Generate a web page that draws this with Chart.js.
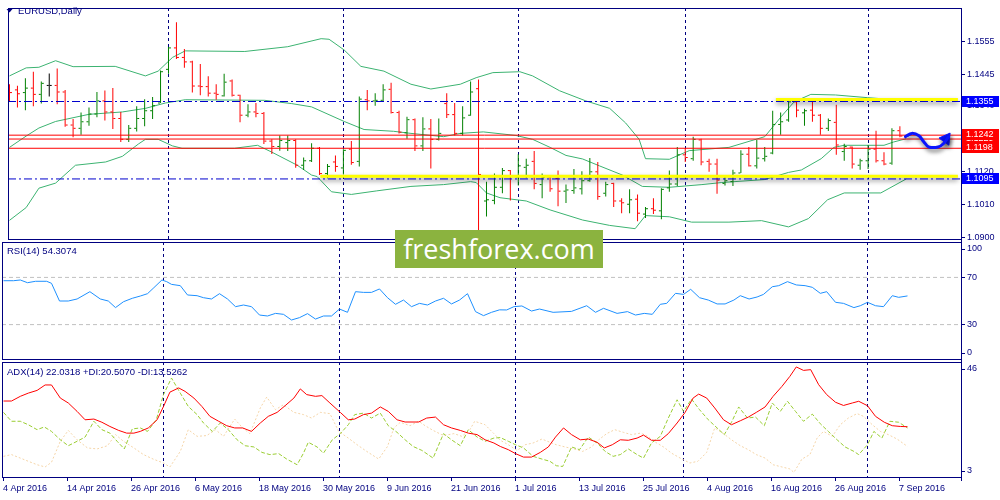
<!DOCTYPE html>
<html><head><meta charset="utf-8">
<script src="https://cdn.jsdelivr.net/npm/chart.js@4.4.0/dist/chart.umd.min.js"></script>
<style>
html,body{margin:0;padding:0;background:#fff;}
#wrap{position:relative;width:1000px;height:500px;overflow:hidden;background:#fff;}
canvas{position:absolute;left:0;top:0;}
#wm{position:absolute;left:395px;top:230px;width:208px;height:38px;background:#8bb33f;color:#fff;font-family:"Open Sans",sans-serif;font-size:27px;line-height:38px;text-align:center;white-space:nowrap;}
</style></head><body>
<div id="wrap">
<canvas id="cPrice" width="1000" height="500"></canvas>
<canvas id="cRsi" width="1000" height="500"></canvas>
<canvas id="cAdx" width="1000" height="500"></canvas>
<div id="wm">freshforex.com</div>
</div>
<script>
// ---------- DATA ----------
const symbolTitle = 'EURUSD,Daily';
const rsiTitle = 'RSI(14) 54.3074';
const adxTitle = 'ADX(14) 22.0318 +DI:20.5070 -DI:13.5262';

const dateTickIdx = [0,8,16,24,32,40,48,56,64,72,80,88,96,104,112];
const dateTickLabels = ['4 Apr 2016','14 Apr 2016','26 Apr 2016','6 May 2016','18 May 2016','30 May 2016','9 Jun 2016','21 Jun 2016','1 Jul 2016','13 Jul 2016','25 Jul 2016','4 Aug 2016','16 Aug 2016','26 Aug 2016','7 Sep 2016'];
const monthStarts = [20,42,64,85,108];

const priceTicks = [1.1555,1.1445,1.1340,1.1230,1.1120,1.1010,1.0900];
const rsiTicks = [100,70,30,0];
const adxTicks = [46,3];
const rsiLevels = [70,30];

const openP = [1.1394,1.1394,1.1385,1.1400,1.1379,1.1409,1.1409,1.1387,1.1276,1.1265,
1.1287,1.1313,1.1357,1.1320,1.1298,1.1228,1.1265,1.1298,1.1324,1.1350,
1.1463,1.1535,1.1503,1.1488,1.1407,1.1405,1.1383,1.1374,1.1424,1.1376,
1.1309,1.1320,1.1315,1.1222,1.1204,1.1217,1.1224,1.1141,1.1156,1.1198,
1.1113,1.1152,1.1132,1.1195,1.1154,1.1361,1.1357,1.1359,1.1396,1.1318,
1.1250,1.1294,1.1206,1.1263,1.1228,1.1348,1.1311,1.1248,1.1309,1.1398,
1.1021,1.1023,1.1067,1.1123,1.1102,1.1134,1.1154,1.1076,1.1102,1.1097,
1.1054,1.1056,1.1062,1.1089,1.1119,1.1047,1.1080,1.1021,1.1010,1.1027,
1.0977,1.0995,1.0988,1.1065,1.1078,1.1176,1.1163,1.1226,1.1154,1.1145,
1.1080,1.1086,1.1115,1.1178,1.1139,1.1163,1.1182,1.1278,1.1293,1.1354,
1.1317,1.1326,1.1309,1.1265,1.1285,1.1187,1.1202,1.1141,1.1156,1.1195,
1.1156,1.1148,1.1257,1.1239];
const highP = [1.1413,1.1408,1.1433,1.1455,1.1422,1.1449,1.1466,1.1394,1.1296,1.1318,
1.1335,1.1387,1.1392,1.1400,1.1320,1.1276,1.1339,1.1363,1.1370,1.1459,
1.1538,1.1621,1.1531,1.1492,1.1481,1.1440,1.1413,1.1448,1.1429,1.1378,
1.1346,1.1350,1.1320,1.1228,1.1241,1.1241,1.1228,1.1167,1.1215,1.1202,
1.1145,1.1174,1.1195,1.1222,1.1372,1.1394,1.1383,1.1413,1.1418,1.1324,
1.1304,1.1298,1.1302,1.1296,1.1298,1.1383,1.1350,1.1339,1.1422,1.1429,
1.1086,1.1113,1.1132,1.1125,1.1178,1.1163,1.1189,1.1113,1.1108,1.1123,
1.1076,1.1128,1.1121,1.1165,1.1152,1.1086,1.1082,1.1030,1.1060,1.1043,
1.1001,1.1030,1.1064,1.1123,1.1202,1.1198,1.1237,1.1230,1.1163,1.1163,
1.1104,1.1126,1.1191,1.1202,1.1226,1.1202,1.1324,1.1318,1.1365,1.1361,
1.1331,1.1357,1.1313,1.1298,1.1344,1.1213,1.1204,1.1163,1.1209,1.1257,
1.1185,1.1265,1.1272,1.1246];
const lowP = [1.1357,1.1335,1.1326,1.1339,1.1348,1.1372,1.1346,1.1270,1.1235,1.1243,
1.1274,1.1302,1.1291,1.1263,1.1219,1.1219,1.1254,1.1272,1.1296,1.1350,
1.1448,1.1498,1.1468,1.1385,1.1376,1.1372,1.1361,1.1372,1.1372,1.1285,
1.1302,1.1302,1.1212,1.1179,1.1190,1.1189,1.1133,1.1125,1.1152,1.1108,
1.1097,1.1119,1.1110,1.1143,1.1137,1.1326,1.1341,1.1357,1.1315,1.1248,
1.1230,1.1189,1.1189,1.1130,1.1224,1.1300,1.1241,1.1241,1.1307,1.0923,
1.0969,1.1010,1.1047,1.1023,1.1073,1.1097,1.1060,1.1030,1.1052,1.1003,
1.1014,1.1045,1.1043,1.1086,1.1025,1.1036,1.1001,1.0980,1.0980,1.0953,
1.0964,1.0977,1.0960,1.1052,1.1071,1.1152,1.1156,1.1141,1.1119,1.1045,
1.1073,1.1071,1.1115,1.1137,1.1130,1.1154,1.1178,1.1243,1.1287,1.1302,
1.1274,1.1287,1.1243,1.1256,1.1176,1.1156,1.1130,1.1126,1.1128,1.1150,
1.1141,1.1143,1.1235,1.1236];
const closeP = [1.1385,1.1381,1.1400,1.1379,1.1416,1.1409,1.1387,1.1276,1.1265,1.1287,
1.1313,1.1357,1.1320,1.1298,1.1228,1.1265,1.1298,1.1324,1.1341,1.1455,
1.1535,1.1503,1.1488,1.1407,1.1405,1.1383,1.1379,1.1420,1.1376,1.1309,
1.1320,1.1315,1.1222,1.1204,1.1224,1.1224,1.1141,1.1156,1.1198,1.1113,
1.1137,1.1137,1.1191,1.1150,1.1363,1.1357,1.1359,1.1394,1.1318,1.1252,
1.1294,1.1206,1.1263,1.1228,1.1248,1.1311,1.1248,1.1300,1.1387,1.1110,
1.1025,1.1067,1.1123,1.1104,1.1139,1.1141,1.1080,1.1100,1.1062,1.1054,
1.1058,1.1065,1.1089,1.1119,1.1036,1.1076,1.1021,1.1015,1.1025,1.0980,
1.0995,1.0990,1.1060,1.1078,1.1176,1.1167,1.1228,1.1152,1.1145,1.1091,
1.1089,1.1115,1.1178,1.1139,1.1165,1.1171,1.1278,1.1287,1.1354,1.1326,
1.1324,1.1309,1.1265,1.1291,1.1209,1.1204,1.1145,1.1156,1.1195,1.1156,
1.1145,1.1257,1.1239,1.1242];

// Bollinger bands: [bar index, price]
const bbUpper = [[0,1.1441],[2.1,1.1468],[3.7,1.1470],[5.8,1.1492],[8,1.1472],[13.3,1.1473],[17.1,1.1441],[18.7,1.1457],[20.5,1.1503],[22.1,1.1525],[29.6,1.1523],[35,1.1539],[39.2,1.1566],[40.2,1.1564],[42.1,1.1528],[44.2,1.1473],[47.1,1.1457],[50.5,1.1413],[53,1.1397],[56.7,1.1413],[58.7,1.1435],[60.8,1.1452],[64.2,1.1455],[65.8,1.1441],[69.2,1.1391],[72.5,1.1357],[75.5,1.1332],[77.5,1.1283],[79.2,1.1228],[80,1.1163],[83,1.1161],[85.5,1.1190],[90.5,1.1201],[95,1.1237],[97.1,1.1305],[98.7,1.1354],[100.8,1.1379],[103.9,1.1377],[107.9,1.1368],[112.8,1.1358]];
const bbMiddle = [[0,1.1201],[2.1,1.1239],[3.7,1.1266],[5.8,1.1288],[10,1.1312],[14.2,1.1320],[17.1,1.1332],[19.6,1.1350],[22.1,1.1361],[32.1,1.1359],[35.5,1.1348],[38,1.1337],[42.1,1.1288],[44.6,1.1261],[48.3,1.1255],[50.5,1.1248],[54.6,1.1237],[56.7,1.1248],[59.6,1.1253],[63.7,1.1241],[65.8,1.1228],[68,1.1201],[70,1.1174],[72.1,1.1162],[74.2,1.1139],[77.1,1.1108],[79.6,1.1070],[83,1.1067],[87.1,1.1076],[89.6,1.1083],[95,1.1093],[98,1.1117],[99.6,1.1125],[102.1,1.1163],[103.7,1.1201],[105,1.1208],[110,1.1208],[111.2,1.1219],[112.8,1.1230]];
const bbLower = [[0,1.0956],[2.1,1.0999],[3.7,1.1064],[5.8,1.1081],[8.3,1.1141],[12.1,1.1152],[14.2,1.1171],[16.2,1.1212],[17.1,1.1228],[18.7,1.1228],[20.5,1.1206],[21.7,1.1198],[28.3,1.1198],[31.2,1.1208],[33,1.1185],[36.2,1.1141],[38,1.1108],[38.7,1.1103],[40.5,1.1052],[43,1.1043],[46.2,1.1055],[50.5,1.1070],[54.6,1.1076],[58,1.1086],[58.7,1.1083],[60,1.1048],[61.7,1.1032],[65,1.1021],[68,1.0991],[72.1,1.0957],[75.5,1.0939],[78.7,1.0928],[80,1.0972],[83,1.0968],[85.8,1.0950],[90.5,1.0950],[94.6,1.0955],[98,1.0934],[100.5,1.0962],[102.9,1.1025],[105,1.1048],[109.6,1.1048],[112.8,1.1095]];

// Chart objects (levels and annotations)
const blueLevels = [1.1355, 1.1095];
const redLevels = [1.1242, 1.1229, 1.1198];
const yellowPrice = [1.1362, 1.1104];
const yellowFrom = [96.4, 39.1];
const yellowTo = [119.3, 119.3];
const boxLevels = [1.1355, 1.1229, 1.1242, 1.1198, 1.1095];
const boxKinds = ['blue','red','red','red','blue'];
const arrowPath = [[112.7,1.1237],[113.5,1.1248],[114.4,1.1240],[115.0,1.1220],[115.6,1.1203],[116.8,1.1202],[117.5,1.1214],[118.1,1.1236]];
const arrowHead = [117.8, 1.1230];

// RSI(14): [bar index, value]
const rsiLine = [[0,67.2],[1.25,67.2],[2.1,67.8],[3,65.5],[4,66.7],[5.4,66.7],[6,65],[7,50],[8.1,50],[9.2,51.7],[10.8,57.9],[12.1,51.7],[13.1,50],[14,44.4],[15,49.4],[16.1,52.3],[17.1,54.2],[18,56.2],[18.8,61.3],[19.8,67.8],[20.4,66.4],[21,64.1],[22.1,63],[23,55.1],[24.2,54.5],[25,52.8],[26,51.7],[27,56.2],[28,51.7],[29,45.2],[30,46.6],[31,45.2],[32,38.1],[33,37.3],[34,39.5],[35,38.7],[36,33.9],[37,35.9],[38,39.3],[39,34.7],[40,37.3],[41,37.3],[42,43.2],[43,40.4],[44,57.9],[45,57.3],[46,57.3],[47,60.2],[48,52.8],[49,47.2],[50,50.8],[51,45.2],[52,48],[53,46.6],[54,50],[55,52.3],[56,47.5],[57,50.8],[58,56.2],[59,41],[60,37.6],[61,40.4],[62,42.5],[62.9,42.4],[63.8,45.2],[64.8,45.8],[66,41.5],[67,43.2],[68.7,40.4],[71,41.2],[72.9,46],[74,40.4],[75,43.8],[76.7,39.5],[78,41],[79,38.1],[80.1,39.5],[81.1,38.7],[82.1,47.2],[82.9,48],[84,56.5],[85,55.6],[85.9,59.9],[87,52.8],[88.1,50.8],[89.2,47.5],[90.2,47.5],[91.3,50.8],[92.1,54.5],[93.2,51.7],[94.2,53.4],[95,55.6],[96.1,62.1],[96.9,63],[98,66.4],[99.1,63.6],[100.2,63],[101.1,61.6],[102.1,56.5],[102.9,57.9],[104,48.9],[105,48],[106.3,44.4],[107.1,46],[108,48.9],[109,46],[110,45.2],[111.1,54.5],[111.9,53.1],[113,54.3]];

// ADX(14), +DI, -DI: [bar index, value]
const adxLine = [[0,31.9],[1,31.9],[2.1,33.8],[3.1,35.1],[4.2,36.2],[5.2,38.4],[6,38.4],[7.1,33.1],[8.1,31.1],[9.2,27.7],[10.2,24.3],[11.3,24.6],[12.3,23.3],[13.3,21.6],[14.4,20],[15.4,18.9],[16.3,18.9],[17.1,19.6],[18.1,21],[19.2,24.3],[20,29.7],[20.8,35.5],[21.9,37.2],[22.7,35.8],[23.8,33.1],[24.8,29.7],[25.8,25.7],[26.9,23.7],[27.9,21.9],[28.9,21],[29.9,21],[31,19.6],[32.1,23],[33.1,25.7],[34.2,27.3],[35.2,30],[36.3,33.1],[37.1,36.8],[37.9,34.5],[39,33.8],[39.8,34.1],[40.8,31.1],[42.1,27.3],[43.1,24.3],[43.9,24.6],[45,26.4],[46,27],[47.1,29.5],[48.1,27.7],[49.2,24.3],[50.2,23.4],[51.9,23.4],[52.9,25],[54,25.4],[55,22.3],[56,21],[57.1,20],[58.1,18.9],[59.2,18.3],[60.2,16.2],[61.3,14.9],[62.1,13.5],[63.1,12.2],[64,10.6],[65,9.2],[66,9.2],[67.1,11.1],[68.1,13.3],[69,17.3],[70,21],[71,18.3],[72.1,16.2],[73.1,16.5],[74.2,15.2],[75.1,12.9],[76.1,14.2],[77.1,16.2],[78.1,16],[79.2,16.9],[80,18.1],[81,16],[82.1,16],[83.1,18.7],[84.2,23],[85.2,27.3],[86.2,33.1],[86.9,34.7],[87.9,33.1],[88.9,29.1],[90,24.3],[91,22.3],[92.1,23.9],[93.1,25.4],[94.1,27.3],[95.2,29.5],[96.2,33.8],[97.3,37.8],[98.3,41.9],[99.1,45.7],[100,44.3],[100.9,44.6],[101.9,38.5],[102.9,34.5],[104,31.4],[105,30.1],[106.1,31.1],[106.9,31.8],[108,30],[109,25.7],[110.1,23.3],[111.1,21.9],[112.1,21.6],[113,21.5]];
const plusDI = [[0,27.3],[1,23.7],[2.1,23.7],[3.1,22.3],[4.2,20.3],[5.1,21.4],[6,19.6],[7.1,16.2],[8.1,13.8],[9.2,15.6],[10.2,17.3],[11.3,23.7],[12.3,20.3],[13.3,18.9],[14.2,15.6],[15.1,12.5],[16.1,20.6],[17.1,21],[18,19.6],[19.1,24.3],[20,34.5],[21,41.2],[22.1,35.1],[23.1,29.7],[24.2,26.4],[25,23],[26.1,19.6],[27.1,23],[28.1,20.3],[29.2,16.2],[30.2,13.8],[31.3,13.3],[32.3,11.1],[33.3,10.2],[34.4,10.6],[35.4,8.4],[36.7,6.1],[37.5,10.8],[38.1,15.2],[39.2,13.3],[40,10.8],[41.1,16.2],[42.1,18.7],[43.1,22.3],[43.9,26.4],[45,27],[46,25],[47.1,27],[48.1,21.9],[49.2,19.2],[50.2,16.2],[51.2,13.5],[52.3,11.9],[53.7,8.8],[55,18.7],[56,16.2],[57.1,13.8],[58.1,20.3],[59.2,17.3],[60.2,15.6],[61.3,16.9],[62.1,17.1],[63.1,15.6],[64,14.2],[65,12.9],[66.2,9.5],[67.3,8.4],[68.3,7.5],[69.1,5.7],[69.9,5.4],[71,13.3],[72,12.2],[73.1,17.3],[74.2,14.9],[75.2,11.5],[76.2,9.5],[77.1,10.2],[78.1,12.5],[79.2,10.2],[80,8.8],[81,14.9],[82.1,17.6],[83.1,25],[84.2,32.4],[85,27.7],[86,32.7],[87,28.4],[88.1,24.3],[89.2,21],[90.1,18.3],[91,23.3],[91.9,29.5],[93,25],[94,25.4],[95.1,21.9],[96.1,31.1],[97.1,27.7],[98,31.8],[99,27.7],[100,23.7],[101.1,26.6],[102.1,22.7],[103.1,19.6],[104.2,16.2],[105.2,13.3],[106.3,11.5],[106.9,10.2],[108,14.2],[108.8,19.6],[109.8,16.9],[110.8,23.7],[111.9,23.3],[113,21]];
const minusDI = [[0,9.5],[1,10.2],[2.1,8.8],[3.1,7.5],[4.2,6.1],[5.2,5.2],[6,7.1],[7.1,15.6],[8.1,20],[9.2,16.2],[10.5,12.9],[11.7,12.5],[13,13.8],[14,18.3],[15,15.6],[16.3,12.9],[17.5,10.2],[18.7,8.4],[20,6.8],[20.8,5.2],[22.1,11.5],[23.1,20.3],[24.2,17.6],[25.4,17.9],[26.5,20.3],[27.5,17.6],[28.9,24.6],[29.9,21],[30.8,18.7],[32.1,29.1],[32.9,33.5],[34,28.4],[35,30.4],[36.3,27.3],[37.5,26.4],[38.5,25],[39.6,27.3],[40.8,26.8],[41.9,19.6],[43.1,16.9],[44.2,14.2],[45.4,11.5],[46.9,8.4],[48,13.5],[48.8,21],[49.6,23.3],[50.8,21.9],[51.9,23.7],[52.7,21.9],[53.7,20],[55,17.9],[56.3,18.7],[57.3,17.6],[58.3,20.3],[58.9,23.7],[60.2,22.3],[61.3,18.7],[62.1,16],[63.1,14.2],[64.2,11.9],[65.2,14.2],[66.2,14.9],[67.3,16.5],[68.3,15.2],[69.1,14.2],[70.2,13.3],[71.3,12.5],[72.4,11.5],[73.5,13.3],[74.4,16.2],[75.4,18.7],[76.4,20.3],[77.5,19.2],[78.5,18.3],[79.6,18.9],[80.4,17.9],[81.5,15.2],[82.5,13.3],[83.5,10.8],[84.8,8.4],[85.8,6.8],[86.8,7.5],[87.9,11.1],[88.9,21],[90,18.7],[91,16.2],[92.1,13.8],[93.1,12.2],[94.1,10.2],[95.2,8.8],[96.2,6.1],[97.3,5.2],[98.3,4.4],[98.8,3],[99.8,8.4],[100.8,10.2],[101.7,16.9],[102.5,19.6],[103.6,17.6],[104.6,22.3],[105.6,25],[106.7,26.8],[107.5,25.7],[108.6,22.3],[109.6,19.6],[110.6,18.3],[111.7,16.5],[113,13.5]];

// ---------- STYLE / LAYOUT ----------
const X_MIN = -0.1875, X_MAX = 119.6875;
const NAVY = '#000080';
const TICK_FONT = '9px "Liberation Sans", Arial, sans-serif';
const HEAD_FONT = '9.5px "Liberation Sans", Arial, sans-serif';
const UP = '#008000', DOWN = '#ff0000', FLAT = '#000000';
const BOX_COLORS = {blue: '#0000ff', red: '#ff0000'};

const panelCfg = {
  cPrice: {ticks: priceTicks, dec: 4, clamp: false, title: symbolTitle, titleX: 18, titleY: 11, tri: true, boxes: true},
  cRsi: {ticks: rsiTicks, dec: 0, clamp: true, title: rsiTitle, titleX: 7, titleY: 251},
  cAdx: {ticks: adxTicks, dec: 0, clamp: true, title: adxTitle, titleX: 7, titleY: 372, dates: true}
};

const shadowPlugin = {
  id: 'shadowFx',
  beforeDatasetDraw(chart, args) {
    const ds = chart.data.datasets[args.index];
    if (ds.fx) {
      const c = chart.ctx; c.save();
      c.shadowColor = ds.fx.color; c.shadowBlur = ds.fx.blur; c.shadowOffsetX = ds.fx.dx; c.shadowOffsetY = ds.fx.dy;
    }
  },
  afterDatasetDraw(chart, args) {
    const ds = chart.data.datasets[args.index];
    if (ds.fx) chart.ctx.restore();
  }
};

const mt4Plugin = {
  id: 'mt4panel',
  beforeDatasetsDraw(chart) {
    const {ctx, chartArea: a, scales: {x}} = chart;
    ctx.save();
    ctx.strokeStyle = NAVY; ctx.lineWidth = 1; ctx.setLineDash([3, 3]);
    monthStarts.forEach(i => {
      const px = Math.floor(x.getPixelForValue(i)) + 0.5;
      ctx.beginPath(); ctx.moveTo(px, a.top); ctx.lineTo(px, a.bottom); ctx.stroke();
    });
    ctx.restore();
  },
  afterDraw(chart) {
    const cfg = panelCfg[chart.canvas.id];
    const {ctx, chartArea: a, scales: {x, y}} = chart;
    ctx.save();
    ctx.strokeStyle = NAVY; ctx.lineWidth = 1; ctx.setLineDash([]);
    ctx.beginPath();
    ctx.moveTo(a.left, a.top + 0.5); ctx.lineTo(a.right + 1, a.top + 0.5);
    ctx.moveTo(a.left + 0.5, a.top); ctx.lineTo(a.left + 0.5, a.bottom);
    ctx.moveTo(a.left, a.bottom - 0.5); ctx.lineTo(a.right + 1, a.bottom - 0.5);
    ctx.moveTo(a.right + 0.5, a.top); ctx.lineTo(a.right + 0.5, a.bottom + (cfg.dates ? 3 : 2));
    ctx.stroke();

    // value labels
    ctx.save();
    ctx.beginPath(); ctx.rect(a.right, a.top, 1000 - a.right, a.bottom - a.top); ctx.clip();
    ctx.font = TICK_FONT; ctx.fillStyle = NAVY; ctx.textAlign = 'left'; ctx.textBaseline = 'middle';
    cfg.ticks.forEach(v => {
      let py = y.getPixelForValue(v);
      if (cfg.clamp) py = Math.min(Math.max(py, a.top + 7), a.bottom - 7);
      ctx.beginPath(); ctx.moveTo(a.right, Math.floor(py) + 0.5); ctx.lineTo(a.right + 4, Math.floor(py) + 0.5); ctx.stroke();
      ctx.fillText(v.toFixed(cfg.dec), a.right + 6, py);
    });
    if (cfg.boxes) {
      boxLevels.forEach((v, k) => {
        const py = y.getPixelForValue(v);
        ctx.fillStyle = BOX_COLORS[boxKinds[k]];
        ctx.fillRect(a.right + 1, Math.round(py) - 6, 37, 11);
        ctx.fillStyle = '#ffffff';
        ctx.fillText(v.toFixed(4), a.right + 5, Math.round(py) - 0.5);
      });
    }
    ctx.restore();

    // title
    ctx.font = HEAD_FONT; ctx.fillStyle = NAVY; ctx.textAlign = 'left'; ctx.textBaseline = 'middle';
    if (cfg.tri) {
      ctx.beginPath(); ctx.moveTo(6.5, 9); ctx.lineTo(12.5, 9); ctx.lineTo(9.5, 12.5); ctx.closePath(); ctx.fill();
    }
    ctx.fillText(cfg.title, cfg.titleX, cfg.titleY);

    // date axis
    if (cfg.dates) {
      ctx.font = TICK_FONT;
      dateTickIdx.forEach((idx, k) => {
        const px = Math.floor(x.getPixelForValue(idx)) + 0.5;
        ctx.beginPath(); ctx.moveTo(px, a.bottom); ctx.lineTo(px, a.bottom + 3); ctx.stroke();
        ctx.fillText(dateTickLabels[k], px - 0.5, 489);
      });
    }
    ctx.restore();
  }
};

function baseOptions(top, bottom, ymin, ymax) {
  return {
    responsive: false, animation: false, events: [], devicePixelRatio: 1,
    layout: {padding: {left: 2, right: 39, top: top, bottom: 500 - bottom}},
    scales: {
      x: {type: 'linear', display: false, min: X_MIN, max: X_MAX, offset: false},
      y: {type: 'linear', display: false, min: ymin, max: ymax}
    },
    plugins: {legend: {display: false}, tooltip: {enabled: false}},
    elements: {point: {radius: 0, hoverRadius: 0}, line: {tension: 0}}
  };
}
const pts = arr => arr.map(p => ({x: p[0], y: p[1]}));
function hline(v, from, to, color, width, dash, order, fx) {
  const d = {type: 'line', data: [{x: from, y: v}, {x: to, y: v}], borderColor: color, borderWidth: width,
    borderDash: dash, pointRadius: 0, order: order};
  if (fx) d.fx = fx;
  return d;
}

// ---------- PRICE PANEL ----------
const barCol = openP.map((o, i) => closeP[i] > o ? UP : (closeP[i] < o ? DOWN : FLAT));
const priceDs = [];
const arrowFx = {color: 'rgba(0,0,0,0.55)', blur: 4, dx: 1, dy: 3};
priceDs.push({type: 'line', data: pts(arrowPath), borderColor: '#0a14ff', borderWidth: 3, pointRadius: 0, tension: 0.35,
  borderCapStyle: 'round', borderJoinStyle: 'round', order: 0, fx: arrowFx});
priceDs.push({type: 'line', data: [{x: arrowHead[0], y: arrowHead[1]}], showLine: false, pointStyle: 'triangle',
  pointRadius: 7, pointRotation: 36, pointBackgroundColor: '#0a14ff', pointBorderColor: '#0a14ff', order: 0, fx: arrowFx});
blueLevels.forEach(v => priceDs.push(hline(v, X_MIN, X_MAX, '#0000cd', 1, [8, 3, 2, 3], 1)));
redLevels.forEach(v => priceDs.push(hline(v, X_MIN, X_MAX, '#ff0000', 1, [], 1)));
yellowPrice.forEach((v, k) => priceDs.push(hline(v, yellowFrom[k], yellowTo[k], '#ffff00', 3, [], 2,
  {color: 'rgba(0,0,0,0.45)', blur: 5, dx: 0, dy: 3})));
priceDs.push({type: 'line', showLine: false, data: openP.map((o, i) => ({x: i - 0.1875, y: o})), pointStyle: 'line',
  pointRadius: 1, pointBorderWidth: 1, pointBorderColor: barCol, order: 3});
priceDs.push({type: 'line', showLine: false, data: closeP.map((c, i) => ({x: i + 0.1875, y: c})), pointStyle: 'line',
  pointRadius: 1, pointBorderWidth: 1, pointBorderColor: barCol, order: 3});
priceDs.push({type: 'bar', data: openP.map((o, i) => ({x: i, y: [lowP[i], highP[i]]})), backgroundColor: barCol,
  borderWidth: 0, barThickness: 1, inflateAmount: 0, grouped: false, order: 3});
[bbUpper, bbMiddle, bbLower].forEach(b => priceDs.push({type: 'line', data: pts(b), borderColor: '#3cb371',
  borderWidth: 1, pointRadius: 0, order: 5}));

new Chart(document.getElementById('cPrice'), {
  type: 'line', data: {datasets: priceDs}, options: baseOptions(2, 240, 1.0890, 1.1669),
  plugins: [shadowPlugin, mt4Plugin]
});

// ---------- RSI PANEL ----------
const rsiDs = [{type: 'line', data: pts(rsiLine), borderColor: '#1e90ff', borderWidth: 1, pointRadius: 0, order: 0}];
rsiLevels.forEach(v => rsiDs.push(hline(v, X_MIN, X_MAX, '#c0c0c0', 1, [4, 3], 1)));
new Chart(document.getElementById('cRsi'), {
  type: 'line', data: {datasets: rsiDs}, options: baseOptions(242, 360, 0, 100),
  plugins: [mt4Plugin]
});

// ---------- ADX PANEL ----------
const adxDs = [
  {type: 'line', data: pts(adxLine), borderColor: '#ff0000', borderWidth: 1, pointRadius: 0, order: 0},
  {type: 'line', data: pts(plusDI), borderColor: '#9acd32', borderWidth: 1, borderDash: [4, 2], pointRadius: 0, order: 1},
  {type: 'line', data: pts(minusDI), borderColor: '#f5d5a8', borderWidth: 1, borderDash: [2, 2], pointRadius: 0, order: 2}
];
new Chart(document.getElementById('cAdx'), {
  type: 'line', data: {datasets: adxDs}, options: baseOptions(362, 478, 0.73, 47.7),
  plugins: [mt4Plugin]
});
</script>
</body></html>
